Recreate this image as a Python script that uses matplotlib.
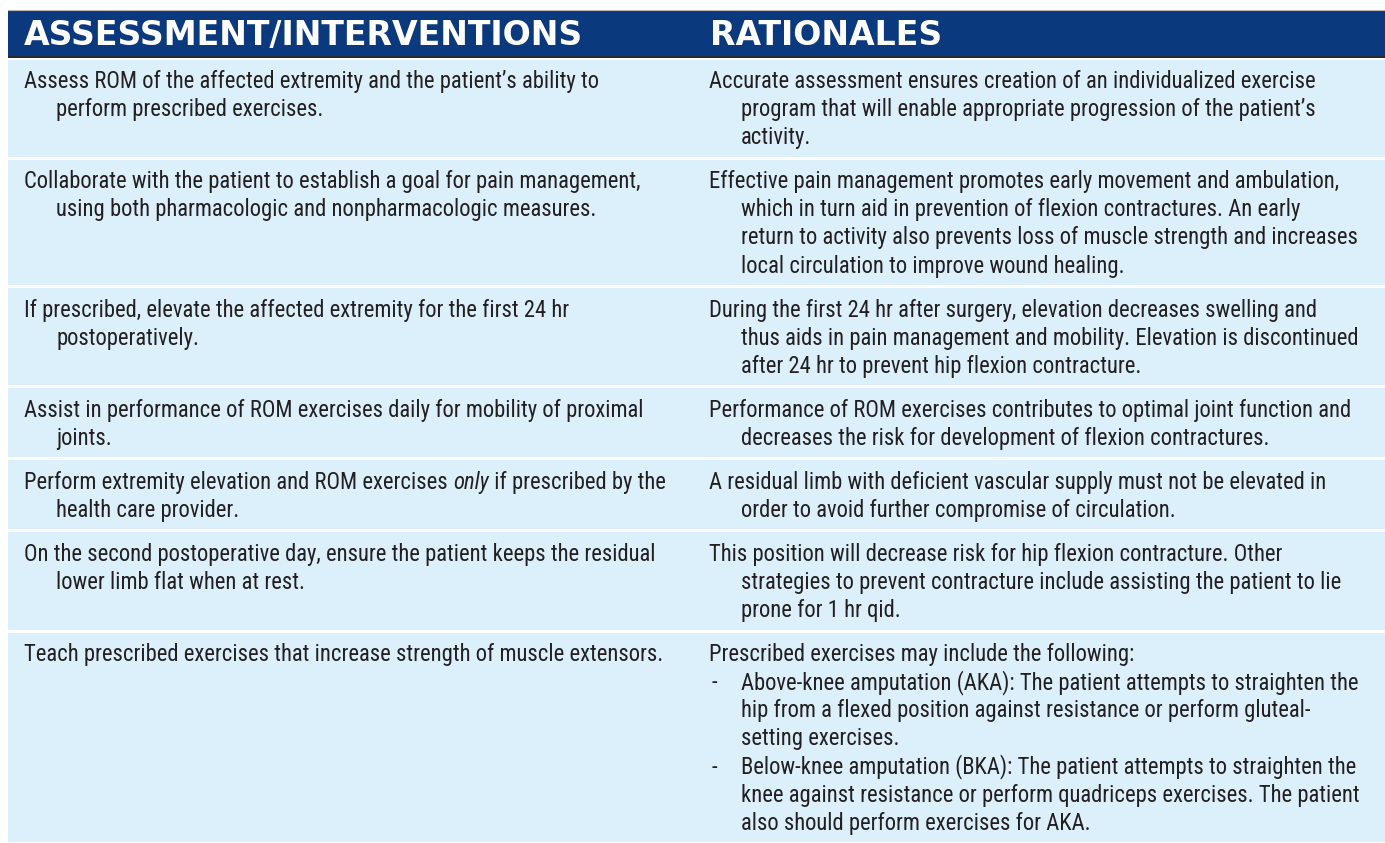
import matplotlib
matplotlib.use("Agg")
import matplotlib.pyplot as plt
from matplotlib import font_manager as fm
from matplotlib.patches import Rectangle

# ---------------- data ----------------
header_left = "ASSESSMENT/INTERVENTIONS"
header_right = "RATIONALES"

interventions = [
    ["Assess ROM of the affected extremity and the patient\u2019s ability to",
     "perform prescribed exercises."],
    ["Collaborate with the patient to establish a goal for pain management,",
     "using both pharmacologic and nonpharmacologic measures."],
    ["If prescribed, elevate the affected extremity for the first 24 hr",
     "postoperatively."],
    ["Assist in performance of ROM exercises daily for mobility of proximal",
     "joints."],
    ["Perform extremity elevation and ROM exercises *only* if prescribed by the",
     "health care provider."],
    ["On the second postoperative day, ensure the patient keeps the residual",
     "lower limb flat when at rest."],
    ["Teach prescribed exercises that increase strength of muscle extensors."],
]

rationales = [
    ["Accurate assessment ensures creation of an individualized exercise",
     "program that will enable appropriate progression of the patient\u2019s",
     "activity."],
    ["Effective pain management promotes early movement and ambulation,",
     "which in turn aid in prevention of flexion contractures. An early",
     "return to activity also prevents loss of muscle strength and increases",
     "local circulation to improve wound healing."],
    ["During the first 24 hr after surgery, elevation decreases swelling and",
     "thus aids in pain management and mobility. Elevation is discontinued",
     "after 24 hr to prevent hip flexion contracture."],
    ["Performance of ROM exercises contributes to optimal joint function and",
     "decreases the risk for development of flexion contractures."],
    ["A residual limb with deficient vascular supply must not be elevated in",
     "order to avoid further compromise of circulation."],
    ["This position will decrease risk for hip flexion contracture. Other",
     "strategies to prevent contracture include assisting the patient to lie",
     "prone for 1 hr qid."],
    ["Prescribed exercises may include the following:",
     "- Above-knee amputation (AKA): The patient attempts to straighten the",
     "hip from a flexed position against resistance or perform gluteal-",
     "setting exercises.",
     "- Below-knee amputation (BKA): The patient attempts to straighten the",
     "knee against resistance or perform quadriceps exercises. The patient",
     "also should perform exercises for AKA."],
]

# ---------------- style ----------------
W, H = 1385, 843
HEADER_BLUE = "#0b397d"
BODY_BG = "#dbf0fb"
TEXT_COL = "#231f20"
RULE_DARK = "#2a2a2a"

names = {f.name for f in fm.fontManager.ttflist}
body_font = "Liberation Sans"
for cand in ["Liberation Sans Narrow", "Roboto Condensed", "Open Sans Condensed"]:
    if cand in names:
        body_font = cand
        break
head_font = "DejaVu Sans"

fig = plt.figure(figsize=(W / 100, H / 100), dpi=100)
fig.patch.set_facecolor("white")
ax = fig.add_axes([0, 0, 1, 1])
ax.set_xlim(0, W)
ax.set_ylim(H, 0)
ax.axis("off")
renderer = fig.canvas.get_renderer()


def text_width(s, **kw):
    t = ax.text(0, 0, s, **kw)
    w = t.get_window_extent(renderer).width
    t.remove()
    return w


# fit body font size to reference line width
ref_w = text_width(interventions[6][0], fontsize=10, family=body_font)
ref_w2 = text_width(rationales[1][0], fontsize=10, family=body_font)
body_size = 0.5 * (10 * 624 / ref_w + 10 * 634 / ref_w2)

head_w = text_width(header_left, fontsize=10, family=head_font, weight="bold")
head_size = 10 * 561 / head_w

TABLE_X0 = 8
HEADER_TOP, HEADER_BOT = 10, 56
COL2_X = 709
LEFT_X = 24
INDENT = 32
LINE = 28.1
TOP_PAD = 30      # row top -> first baseline
ROW_EXTRA = 44    # row height for a single line

# header
ax.add_patch(Rectangle((TABLE_X0, HEADER_TOP), W - TABLE_X0, HEADER_BOT - HEADER_TOP,
                       facecolor=HEADER_BLUE, edgecolor="none"))
ax.plot([TABLE_X0, W], [HEADER_TOP - 0.5, HEADER_TOP - 0.5], color="#b8b8b8", lw=0.8)
ax.add_patch(Rectangle((TABLE_X0, HEADER_BOT), W - TABLE_X0, 2.2,
                       facecolor=RULE_DARK, edgecolor="none"))
ax.text(LEFT_X, 45, header_left, color="white", fontsize=head_size,
        family=head_font, weight="bold", va="baseline", ha="left")
ax.text(COL2_X + 1, 45, header_right, color="white", fontsize=head_size,
        family=head_font, weight="bold", va="baseline", ha="left")


def draw_segments(x, y, line):
    """draw a line with *italic* segments"""
    parts = line.split("*")
    for i, p in enumerate(parts):
        if not p:
            continue
        style = "italic" if i % 2 == 1 else "normal"
        t = ax.text(x, y, p, fontsize=body_size, family=body_font, style=style,
                    color=TEXT_COL, va="baseline", ha="left")
        x += t.get_window_extent(renderer).width


def draw_cell(x0, base_y, lines):
    for k, line in enumerate(lines):
        y = base_y + k * LINE
        if k == 0:
            draw_segments(x0, y, line)
        elif line.startswith("- "):
            ax.text(x0 + 3, y, "-", fontsize=body_size, family=body_font,
                    color=TEXT_COL, va="baseline", ha="left")
            draw_segments(x0 + INDENT, y, line[2:])
        else:
            draw_segments(x0 + INDENT, y, line)


y = HEADER_BOT + 2
for left, right in zip(interventions, rationales):
    n = max(len(left), len(right))
    h = ROW_EXTRA + (n - 1) * LINE
    ax.add_patch(Rectangle((TABLE_X0, y + 1.5), W - TABLE_X0, h - 3,
                           facecolor=BODY_BG, edgecolor="none"))
    draw_cell(LEFT_X, y + TOP_PAD, left)
    draw_cell(COL2_X, y + TOP_PAD, right)
    y += h

fig.savefig("out.png", dpi=100, facecolor="white")
